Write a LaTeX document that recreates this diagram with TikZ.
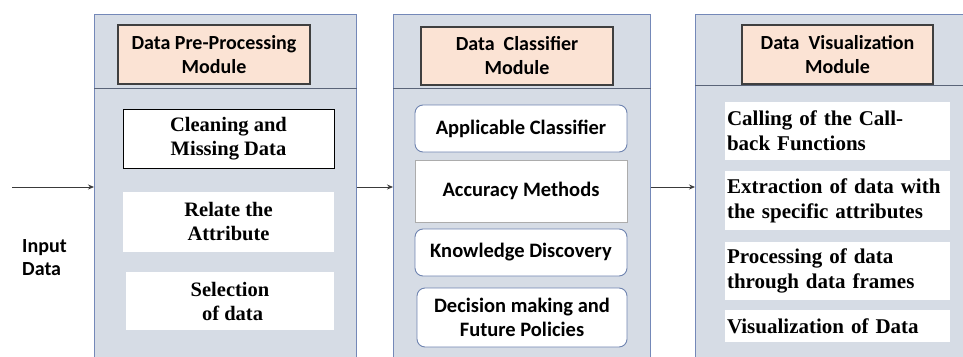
\documentclass[tikz,border=0pt]{standalone}
\usepackage{fontspec}
\setmainfont{Liberation Serif}
\newfontfamily\cali{Carlito}
\usetikzlibrary{arrows.meta}
\definecolor{panelfill}{HTML}{D6DCE5}
\definecolor{panelline}{HTML}{7488B8}
\definecolor{hdrfill}{HTML}{FBE3D4}
\definecolor{hdrline}{HTML}{3F3F3F}
\definecolor{sepcol}{HTML}{5A6478}
\definecolor{itemblue}{HTML}{6F84B0}
\definecolor{arrcol}{HTML}{3A3A3A}
\begin{document}
\begin{tikzpicture}[x=1pt,y=-1pt,
  panel/.style={draw=panelline, fill=panelfill, line width=0.8pt, anchor=north west, inner sep=0pt},
  hdr/.style={draw=hdrline, fill=hdrfill, line width=1.1pt, align=center, inner sep=0pt,
    font=\cali\bfseries\fontsize{20}{24}\selectfont},
  serifitem/.style={fill=white, align=center, inner sep=0pt,
    font=\bfseries\fontsize{20.5}{24}\selectfont},
  leftitem/.style={fill=white, align=left, inner xsep=2pt, inner ysep=0pt, text width=221pt,
    minimum width=225pt, font=\bfseries\fontsize{21}{25}\selectfont},
  clsitem/.style={fill=white, draw=itemblue, line width=0.9pt, align=center, inner sep=0pt,
    minimum width=212pt, rounded corners=8pt, font=\cali\bfseries\fontsize{20.5}{24}\selectfont},
  sepline/.style={draw=sepcol, line width=0.8pt},
  arr/.style={draw=arrcol, line width=0.8pt, -{Stealth[length=6pt,width=5pt]}}
]
\useasboundingbox (0,0) rectangle (963,356);
\clip (0,0) rectangle (963,356);
\fill[white] (0,0) rectangle (963,356);

% panels
\node[panel, minimum width=262pt, minimum height=362pt] (p1) at (94,14) {};
\node[panel, minimum width=257pt, minimum height=362pt] (p2) at (393,14) {};
\node[panel, minimum width=285pt, minimum height=362pt] (p3) at (695,14) {};

% header separators
\coordinate (s1) at (0,88);
\coordinate (s3) at (0,85);
\draw[sepline] (p1.west |- s1) -- (p1.east |- s1);
\draw[sepline] (p2.west |- s1) -- (p2.east |- s1);
\draw[sepline] (p3.west |- s3) -- (p3.east |- s3);

% headers
\node[hdr, minimum width=192pt, minimum height=59pt] (h1) at (214,54.5) {Data Pre-Processing\\Module};
\node[hdr, minimum width=192pt, minimum height=58pt] (h2) at (517,56) {Data\ \ Classifier\\Module};
\node[hdr, minimum width=191pt, minimum height=59pt] (h3) at (837.5,54.5) {Data\ \ Visualization\\Module};

% panel 1 items
\node[serifitem, draw=black, line width=1pt, minimum width=211pt, minimum height=59pt] (a1) at (228.5,138.5) {Cleaning and\\Missing Data};
\node[serifitem, minimum width=211pt, minimum height=60pt] (a2) at (228.5,222) {Relate the\\Attribute};
\node[serifitem, minimum width=208pt, minimum height=58pt] (a3) at (230,301) {Selection\\\ of data};

% panel 2 items
\node[clsitem, minimum height=47pt] (b1) at (521,128.5) {Applicable Classifier};
\node[clsitem, draw=gray!65, rounded corners=0pt, minimum height=62pt] (b2) at (521,191) {Accuracy Methods};
\node[clsitem, minimum height=47pt] (b3) at (521,252.5) {Knowledge Discovery};
\node[clsitem, minimum width=210pt, minimum height=59pt] (b4) at (522,317.5) {Decision making and\\Future Policies};

% panel 3 items
\node[leftitem, minimum height=58pt] (c1) at (837.5,131) {Calling of the Call-\\back Functions};
\node[leftitem, minimum height=59pt] (c2) at (837.5,200.5) {Extraction of data with\\the specific attributes};
\node[leftitem, minimum height=58pt] (c3) at (837.5,271) {Processing of data\\through data frames};
\node[leftitem, minimum height=32pt] (c4) at (837.5,326) {Visualization of Data};

% input
\node[align=left, inner sep=0pt, font=\cali\bfseries\fontsize{20}{23}\selectfont, anchor=west] (inp) at (22,258) {Input\\Data};
\coordinate (src) at (12,187);
\draw[arr] (src) -- (src -| p1.west);
\draw[arr] (p1.east |- src) -- (p2.west |- src);
\draw[arr] (p2.east |- src) -- (p3.west |- src);
\end{tikzpicture}
\end{document}
